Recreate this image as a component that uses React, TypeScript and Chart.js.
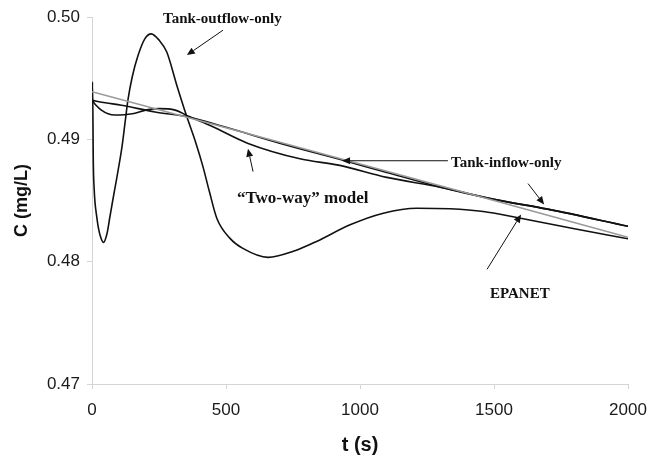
import React, { useEffect, useRef } from 'react';
import { Chart, registerables } from 'chart.js';

Chart.register(...registerables);

// ---- data (t in s, C in mg/L) ----
const tEpanet = [0, 500, 1000, 1500, 2000];
const cEpanet = [0.4939, 0.49095, 0.488, 0.485, 0.482];

const tInflow = [0, 50, 110, 235, 360, 500, 700, 920, 1100, 1300, 1500, 1700, 2000];
const cInflow = [0.4932, 0.493, 0.4928, 0.49225, 0.49183, 0.491, 0.4897, 0.4884, 0.4873, 0.4861, 0.4851, 0.4843, 0.4829];

const tTwoWay = [0, 15, 35, 60, 85, 150, 200, 250, 310, 360, 445, 580, 780, 920, 1100, 1300, 1500, 1700, 2000];
const cTwoWay = [0.4932, 0.4928, 0.4924, 0.4921, 0.492, 0.4921, 0.4924, 0.49252, 0.4924, 0.4919, 0.4911, 0.4897, 0.4884, 0.4879, 0.4869, 0.4861, 0.4851, 0.4843, 0.4829];

const tOutflow = [0, 2, 5, 8, 11, 17, 24, 34, 43, 56, 67, 78, 90, 103, 112, 123, 134, 150, 172, 197, 221, 250, 279, 316, 354, 386, 414, 438, 466, 515, 563, 657, 751, 838, 963, 1087, 1212, 1336, 1460, 1585, 1800, 2000];
const cOutflow = [0.4932, 0.4947, 0.488, 0.486, 0.4849, 0.4838, 0.48275, 0.4819, 0.48158, 0.48231, 0.4837, 0.48509, 0.48655, 0.48818, 0.48941, 0.49131, 0.49321, 0.49511, 0.49688, 0.49823, 0.49864, 0.49813, 0.49715, 0.49446, 0.49185, 0.48981, 0.48778, 0.48574, 0.48354, 0.48191, 0.48109, 0.48036, 0.48085, 0.48166, 0.48302, 0.48397, 0.48438, 0.48433, 0.48411, 0.48362, 0.4827, 0.48188];

const xTicks = [0, 500, 1000, 1500, 2000];
const yTicks = [0.47, 0.48, 0.49, 0.5];

// ---- annotations (anchored in data units) ----
const noteText = ['Tank-outflow-only', 'Tank-inflow-only', '\u201CTwo-way\u201D model', 'EPANET'];
const noteT = [265, 1340, 541, 1485];
const noteC = [0.49984, 0.4881, 0.48517, 0.47734];
const noteSize = [15, 15, 17, 15];

const arrowFromT = [489, 1328, 1627, 601, 1474];
const arrowFromC = [0.49894, 0.48826, 0.48639, 0.48737, 0.47938];
const arrowToT = [354, 933, 1687, 582, 1601];
const arrowToC = [0.4969, 0.48826, 0.48468, 0.48924, 0.48386];

const pts = (ts: number[], cs: number[]) => ts.map((t, i) => ({ x: t, y: cs[i] }));

const annotationPlugin = {
  id: 'notes',
  afterDatasetsDraw(chart: any) {
    const { ctx, scales } = chart;
    const xs = scales.x;
    const ys = scales.y;
    ctx.save();
    ctx.fillStyle = '#111';
    ctx.strokeStyle = '#111';
    ctx.textBaseline = 'middle';
    ctx.textAlign = 'left';
    noteText.forEach((txt, i) => {
      ctx.font = `bold ${noteSize[i]}px "Liberation Serif", "Times New Roman", serif`;
      ctx.fillText(txt, xs.getPixelForValue(noteT[i]), ys.getPixelForValue(noteC[i]));
    });
    ctx.lineWidth = 1;
    arrowFromT.forEach((_, i) => {
      const x1 = xs.getPixelForValue(arrowFromT[i]);
      const y1 = ys.getPixelForValue(arrowFromC[i]);
      const x2 = xs.getPixelForValue(arrowToT[i]);
      const y2 = ys.getPixelForValue(arrowToC[i]);
      const ang = Math.atan2(y2 - y1, x2 - x1);
      const len = 8;
      const hw = 3.5;
      const bx = x2 - len * Math.cos(ang);
      const by = y2 - len * Math.sin(ang);
      ctx.beginPath();
      ctx.moveTo(x1, y1);
      ctx.lineTo(bx, by);
      ctx.stroke();
      ctx.beginPath();
      ctx.moveTo(x2, y2);
      ctx.lineTo(bx + hw * Math.sin(ang), by - hw * Math.cos(ang));
      ctx.lineTo(bx - hw * Math.sin(ang), by + hw * Math.cos(ang));
      ctx.closePath();
      ctx.fill();
    });
    ctx.restore();
  },
};

export default function App() {
  const ref = useRef<HTMLCanvasElement>(null);
  useEffect(() => {
    document.body.style.margin = '0';
    const canvas = ref.current;
    if (!canvas) return;
    const axisColor = '#d4d4d4';
    const tickFont = { family: '"Liberation Sans", Arial, sans-serif', size: 17 };
    const chart = new Chart(canvas, {
      type: 'line',
      data: {
        datasets: [
          { label: 'EPANET', data: pts(tEpanet, cEpanet), borderColor: '#9a9a9a', borderWidth: 1.6 },
          { label: 'Tank-inflow-only', data: pts(tInflow, cInflow), borderColor: '#111', borderWidth: 1.6 },
          { label: 'Two-way model', data: pts(tTwoWay, cTwoWay), borderColor: '#111', borderWidth: 1.6 },
          { label: 'Tank-outflow-only', data: pts(tOutflow, cOutflow), borderColor: '#111', borderWidth: 1.6 },
        ],
      },
      options: {
        responsive: false,
        animation: false,
        parsing: false as any,
        devicePixelRatio: 1,
        layout: { padding: { left: 0, right: 30, top: 15, bottom: 0 } },
        elements: {
          point: { radius: 0 },
          line: { cubicInterpolationMode: 'monotone', fill: false },
        },
        plugins: { legend: { display: false }, tooltip: { enabled: false } },
        scales: {
          x: {
            type: 'linear',
            min: 0,
            max: 2000,
            afterFit: (s: any) => { s.height = 75; },
            afterBuildTicks: (s: any) => { s.ticks = xTicks.map((v) => ({ value: v })); },
            border: { display: true, color: axisColor, width: 1 },
            grid: { display: true, drawOnChartArea: false, drawTicks: true, tickLength: 5, color: axisColor },
            ticks: { font: tickFont, color: '#1a1a1a', padding: 11, maxRotation: 0, autoSkip: false, callback: (v: any) => String(v) },
            title: { display: true, text: 't (s)', color: '#111', font: { family: '"Liberation Sans", Arial, sans-serif', size: 20, weight: 'bold' }, padding: { top: 0, bottom: 2 } },
          },
          y: {
            type: 'linear',
            min: 0.47,
            max: 0.5,
            afterFit: (s: any) => { s.width = 92; },
            afterBuildTicks: (s: any) => { s.ticks = yTicks.map((v) => ({ value: v })); },
            border: { display: true, color: axisColor, width: 1 },
            grid: { display: true, drawOnChartArea: false, drawTicks: true, tickLength: 5, color: axisColor },
            ticks: { font: tickFont, color: '#1a1a1a', padding: 7, autoSkip: false, callback: (v: any) => Number(v).toFixed(2) },
            title: { display: true, text: 'C (mg/L)', color: '#111', font: { family: '"Liberation Sans", Arial, sans-serif', size: 18, weight: 'bold' }, padding: { top: 11, bottom: 0 } },
          },
        },
      },
      plugins: [annotationPlugin],
    } as any);
    return () => chart.destroy();
  }, []);
  return (
    <div style={{ position: 'absolute', left: 0, top: 0, width: 658, height: 459, background: '#fff' }}>
      <canvas ref={ref} width={658} height={459} style={{ display: 'block', width: 658, height: 459 }} />
    </div>
  );
}
